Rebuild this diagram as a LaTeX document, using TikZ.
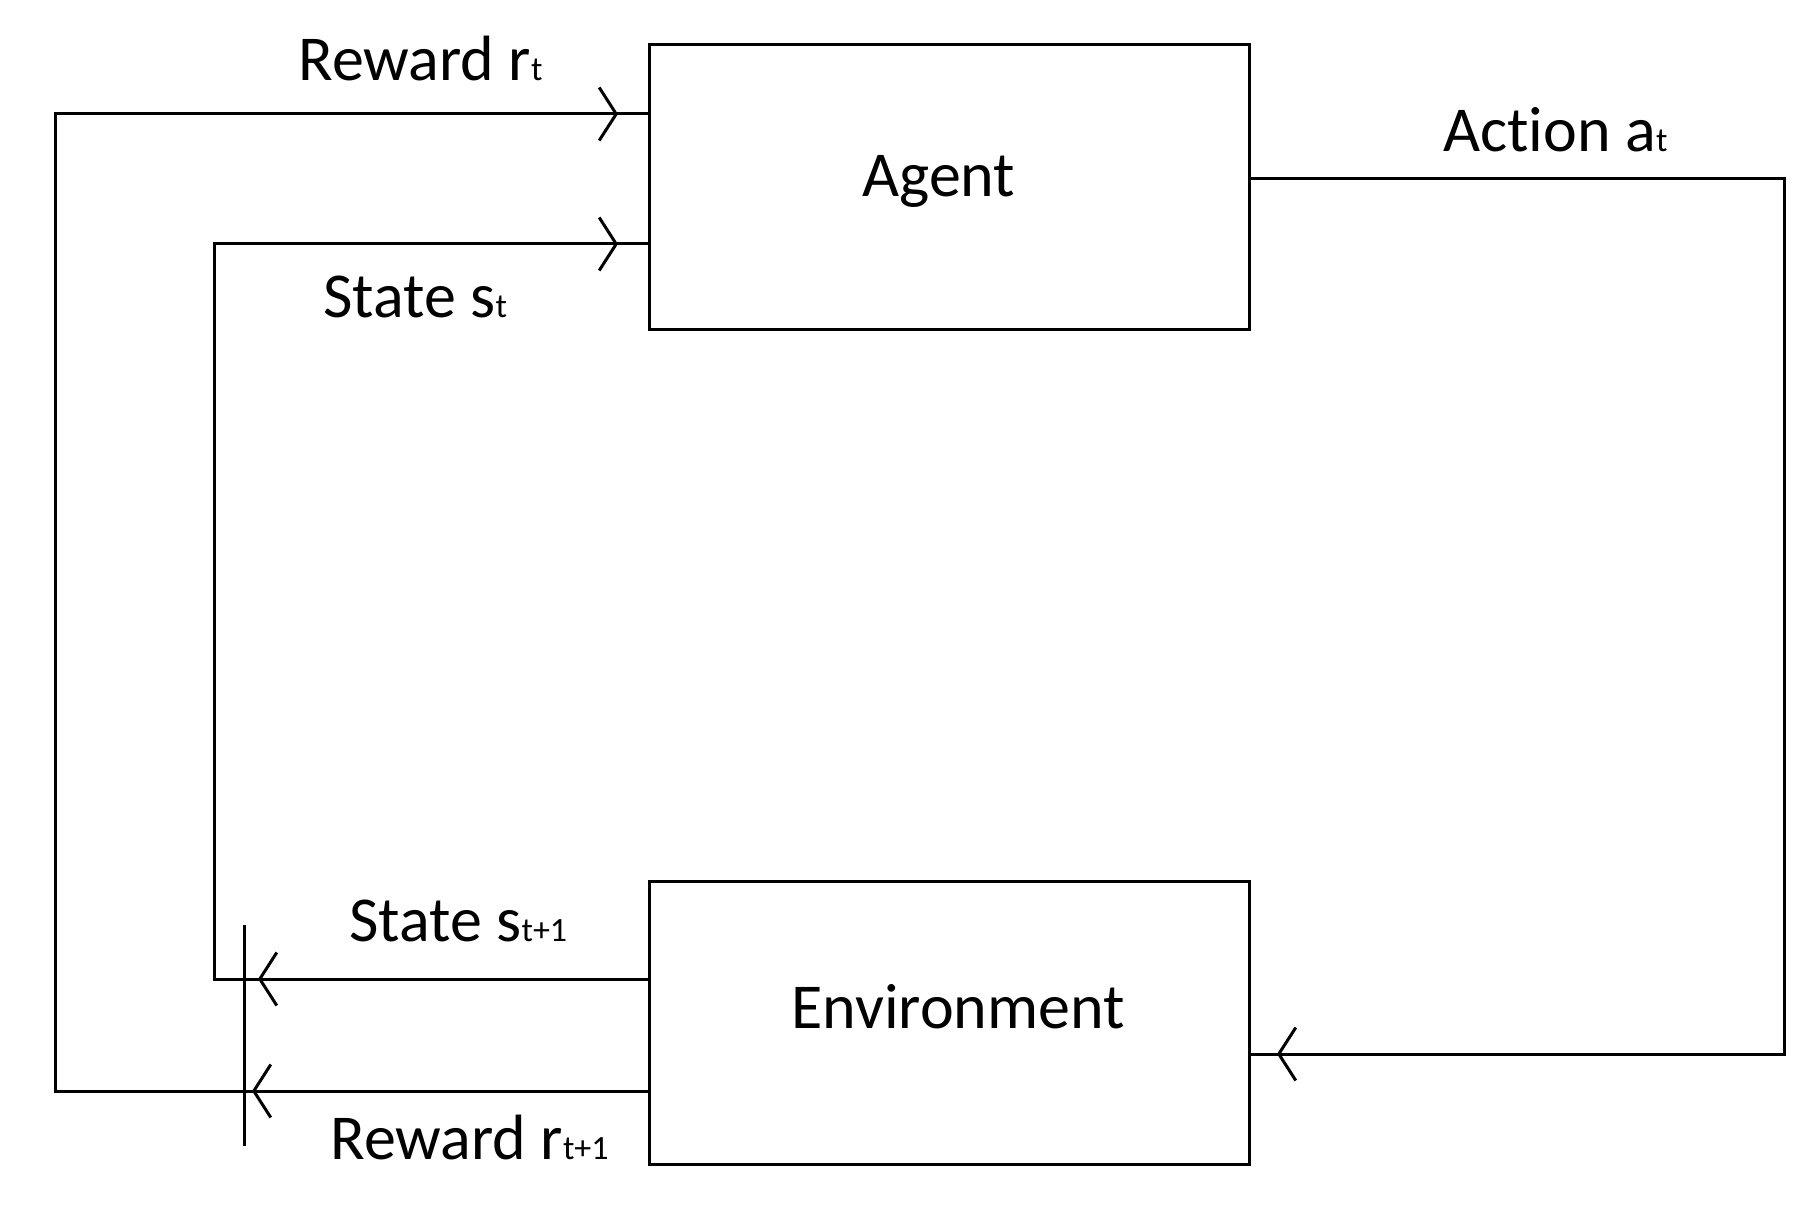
\documentclass[tikz,border=0pt]{standalone}
\usepackage{fontspec}
\setmainfont{Carlito}[Ligatures=NoCommon, RawFeature={-liga;-clig;-dlig}]
\usetikzlibrary{arrows.meta,positioning}
\newcommand{\subidx}[1]{{\fontsize{17pt}{20pt}\selectfont #1}}

\begin{document}
\begin{tikzpicture}[x=0.5pt, y=-0.5pt,
  blockbox/.style={draw, line width=1.5pt, minimum width=300pt, minimum height=142.5pt, inner sep=0pt, outer sep=0pt},
  lbl/.style={anchor=base west, inner sep=0pt, font=\fontsize{32pt}{36pt}\selectfont},
  wire/.style={line width=1.5pt},
  chev/.style={wire, -{Straight Barb[length=8.5pt, width=26.5pt]}}
]
\useasboundingbox (0,0) rectangle (1820,1208);
\node[blockbox] (agent) at (949,187.5) {};
\node[blockbox, minimum height=141.5pt, below=275.5pt of agent] (env) {};
\node[lbl] (agenttxt) at (862,197) {Agent};
\node[lbl] (envtxt) at (791,1028) {Environment};
% corners of the loops
\coordinate (rB) at (55,1091);
\coordinate (rT) at (55,114);
\coordinate (sB) at (214,979);
\coordinate (sT) at (214,244);
\coordinate (aR) at (1784,179);
\coordinate (aB) at (1784,1054);
\coordinate (tickTop) at (244,925);
\coordinate (tickBot) at (244,1146);
% reward loop
\draw[wire] (env.west |- rB) -- (rB) -- (rT) -- (agent.west |- rT);
\draw[chev] (env.west |- rB) -- (252,1091);
\draw[chev] (rT) -- (618,114);
% state loop
\draw[wire] (env.west |- sB) -- (sB) -- (sT) -- (agent.west |- sT);
\draw[chev] (env.west |- sB) -- (258,979);
\draw[chev] (sT) -- (618,244);
% action
\draw[wire] (agent.east |- aR) -- (aR) -- (aB) -- (env.east |- aB);
\draw[chev] (aB) -- (1277,1054);
\draw[wire] (tickTop) -- (tickBot);
% labels
\node[lbl] (rwt) at (298,81) {Reward r\subidx{t}};
\node[lbl] (stt) at (323,318) {State s\subidx{t}};
\node[lbl] (stt1) at (349,941) {State s\subidx{t+1}};
\node[lbl] (rwt1) at (330,1159) {Reward r\subidx{t+1}};
\node[lbl] (act) at (1443,152) {Act\kern0pt ion a\subidx{t}};
\end{tikzpicture}
\end{document}
